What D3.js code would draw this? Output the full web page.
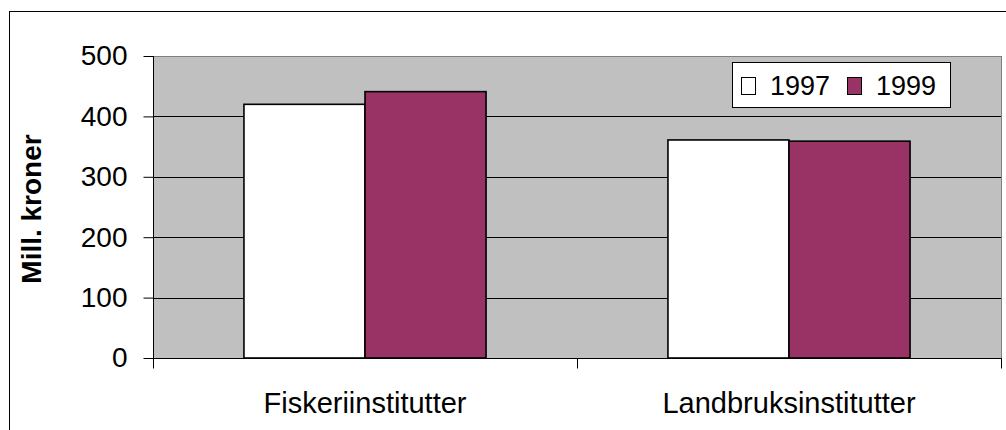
<!DOCTYPE html>
<html><head><meta charset="utf-8">
<script src="https://cdn.jsdelivr.net/npm/d3@7"></script>
<style>
html,body{margin:0;padding:0;background:#fff;}
svg{display:block;}
text{font-family:"Liberation Sans",Arial,sans-serif;fill:#000;}
</style></head>
<body>
<svg id="c" width="1006" height="430"></svg>
<script>
const categories = ["Fiskeriinstitutter", "Landbruksinstitutter"];
const seriesNames = ["1997", "1999"];
const values1997 = [420, 361];
const values1999 = [441, 359];
const yTicks = [0, 100, 200, 300, 400, 500];
const colors = ["#FFFFFF", "#993366"];
const yLabel = "Mill. kroner";

const svg = d3.select("#c");
const L = 153, R = 1001, T = 56, B = 358;

// outer border
svg.append("rect").attr("x", 9.5).attr("y", 11.5).attr("width", 1010).attr("height", 440)
  .attr("fill", "#fff").attr("stroke", "#000").attr("stroke-width", 1);

const y = d3.scaleLinear().domain([0, 500]).range([B, T]);
const x0 = d3.scaleBand().domain(categories).range([L, R]).paddingInner(0.429).paddingOuter(0.2145);
const x1 = d3.scaleBand().domain(seriesNames).range([0, x0.bandwidth()]);

// plot area
svg.append("rect").attr("x", L).attr("y", T).attr("width", R - L).attr("height", B - T)
  .attr("fill", "#C0C0C0");

// gridlines
svg.append("g").selectAll("line").data(yTicks.filter(d => d > 0)).join("line")
  .attr("x1", L).attr("x2", R)
  .attr("y1", d => Math.round(y(d)) + 0.5).attr("y2", d => Math.round(y(d)) + 0.5)
  .attr("stroke", d => d === 500 ? "#808080" : "#000").attr("stroke-width", 1);
// plot border right
svg.append("line").attr("x1", R + 0.5).attr("x2", R + 0.5).attr("y1", T).attr("y2", B)
  .attr("stroke", "#808080");

// bars
const data = categories.map((c, i) => ({c, vals: [values1997[i], values1999[i]]}));
const g = svg.append("g");
data.forEach(d => {
  g.selectAll(null).data(d.vals.map((v, j) => ({v, s: seriesNames[j], j}))).join("rect")
    .attr("x", e => x0(d.c) + x1(e.s))
    .attr("y", e => y(e.v))
    .attr("width", x1.bandwidth())
    .attr("height", e => B - y(e.v))
    .attr("fill", e => colors[e.j])
    .attr("stroke", "#000").attr("stroke-width", 1.6);
});

// y axis
const yAxis = d3.axisLeft(y).tickValues(yTicks).tickSize(10).tickPadding(16).tickFormat(d3.format("d"));
const ya = svg.append("g").attr("transform", `translate(${L + 0.5},0)`).call(yAxis);
ya.select(".domain").attr("stroke", "#000").attr("d", `M0,${T}V${B}`);
ya.selectAll(".tick line").attr("stroke", "#000");
ya.selectAll("text").attr("font-size", 28).attr("font-family", "Liberation Sans, Arial, sans-serif").attr("fill", "#000");

// x axis
const xa = svg.append("g").attr("transform", `translate(0,${B + 0.5})`);
xa.append("line").attr("x1", L).attr("x2", R + 1).attr("y1", 0).attr("y2", 0).attr("stroke", "#000");
const bounds = [L, (L + R) / 2, R];
xa.selectAll("line.tk").data(bounds).join("line").attr("class", "tk")
  .attr("x1", d => Math.round(d) + 0.5).attr("x2", d => Math.round(d) + 0.5)
  .attr("y1", 0).attr("y2", 10).attr("stroke", "#000");
xa.selectAll("text").data(categories).join("text")
  .attr("x", d => x0(d) + x0.bandwidth() / 2).attr("y", 54)
  .attr("text-anchor", "middle").attr("font-size", 29).text(d => d);

// y label
svg.append("text").attr("transform", "translate(41,209) rotate(-90)")
  .attr("text-anchor", "middle").attr("font-size", 28).attr("font-weight", "bold").text(yLabel);

// legend
const lg = svg.append("g");
lg.append("rect").attr("x", 732.5).attr("y", 62.5).attr("width", 218).attr("height", 45)
  .attr("fill", "#fff").attr("stroke", "#000");
const lx = [741, 847];
seriesNames.forEach((s, i) => {
  lg.append("rect").attr("x", lx[i] + 0.5).attr("y", 77.5).attr("width", 14).attr("height", 17)
    .attr("fill", colors[i]).attr("stroke", "#000");
  lg.append("text").attr("x", lx[i] + 29).attr("y", 95).attr("font-size", 27).text(s);
});
</script>
</body></html>
